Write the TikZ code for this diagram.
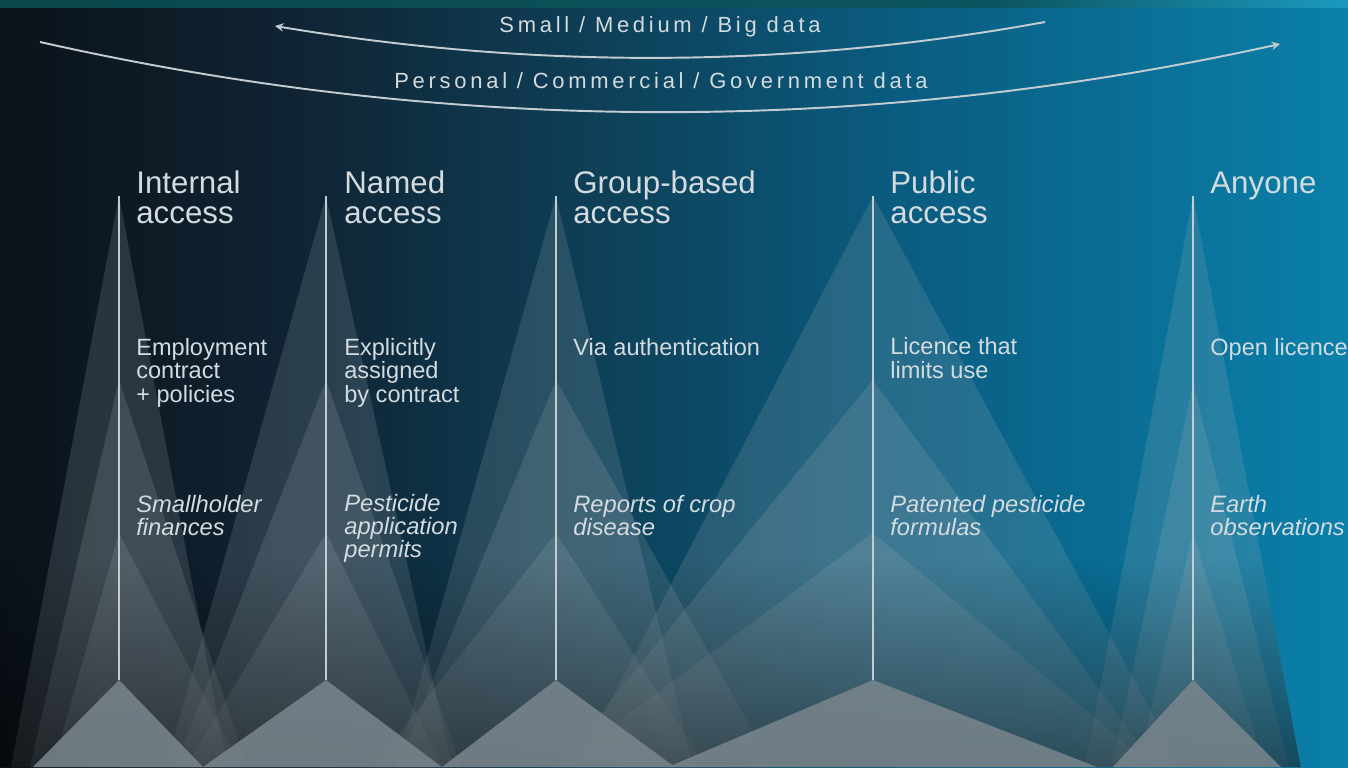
\documentclass[tikz,border=0pt]{standalone}
\usepackage{fontspec}
\setmainfont{Liberation Sans}
\usetikzlibrary{positioning,fadings}

\definecolor{testo}{HTML}{D3DBDF}
\definecolor{grigiofascio}{HTML}{A9B5BB}
\definecolor{grigiotetto}{HTML}{7A868D}
\definecolor{linea}{HTML}{C3CCD1}
\definecolor{bgA}{HTML}{0B1219}
\definecolor{bgB}{HTML}{102434}
\definecolor{bgC}{HTML}{0E4058}
\definecolor{bgD}{HTML}{0A5C80}
\definecolor{bgE}{HTML}{0A80AA}
\definecolor{stA}{HTML}{0A474C}
\definecolor{stB}{HTML}{0C5560}
\definecolor{stC}{HTML}{1B9AC0}

\pgfdeclarehorizontalshading{sfondo}{100bp}{color(0bp)=(bgA); color(25bp)=(bgA); color(36.13bp)=(bgB); color(47.26bp)=(bgC); color(58.38bp)=(bgD); color(75bp)=(bgE); color(100bp)=(bgE)}
\pgfdeclarehorizontalshading{striscia}{100bp}{color(0bp)=(stA); color(25bp)=(stA); color(62bp)=(stB); color(75bp)=(stC); color(100bp)=(stC)}

\begin{document}
\begin{tikzpicture}[x=0.02cm, y=-0.02cm, >=stealth,
    fascio/.style={fill=grigiofascio, fill opacity=0.18},
    tetto/.style={fill=grigiotetto, fill opacity=0.85},
    asse/.style={draw=linea, line width=1.4pt},
    titolo/.style={text=testo, anchor=base west, inner sep=0pt, align=left, font=\fontsize{17.8}{17}\selectfont},
    voce/.style={text=testo, anchor=base west, inner sep=0pt, align=left, font=\fontsize{13.4}{13.2}\selectfont},
    esempio/.style={voce, font=\fontsize{13.5}{13}\selectfont\itshape},
    arco/.style={->, draw=linea, line width=1.1pt},
    scala/.style={text=testo, anchor=base, inner sep=0pt, font=\fontsize{12.5}{12.5}\selectfont\addfontfeatures{LetterSpace=17}}]

    % Sfondo
    \useasboundingbox (0,0) rectangle (1348,767);
    \shade[shading=sfondo] (0,0) rectangle (1348,767);
    \shade[shading=striscia] (0,0) rectangle (1348,8);

    % Coordinate delle colonne
    \coordinate (int-top) at (119,196);
    \coordinate (int-bot) at (119,680);
    \coordinate (nom-top) at (326,196);
    \coordinate (nom-bot) at (326,680);
    \coordinate (grp-top) at (556,196);
    \coordinate (grp-bot) at (556,680);
    \coordinate (pub-top) at (873,196);
    \coordinate (pub-bot) at (873,680);
    \coordinate (tut-top) at (1193,196);
    \coordinate (tut-bot) at (1193,680);

    % Fasci di luce
    \fill[fascio] (119,196) -- (227,767) -- (11,767) -- cycle;
    \fill[fascio] (119,380) -- (247,767) -- (30,767) -- cycle;
    \fill[fascio] (119,533) -- (241,767) -- (53,767) -- cycle;

    \fill[fascio] (326,196) -- (452,767) -- (166,767) -- cycle;
    \fill[fascio] (326,380) -- (461,767) -- (175,767) -- cycle;
    \fill[fascio] (326,533) -- (443,767) -- (186,767) -- cycle;

    \fill[fascio] (556,196) -- (693,767) -- (396,767) -- cycle;
    \fill[fascio] (556,380) -- (773,767) -- (397,767) -- cycle;
    \fill[fascio] (556,533) -- (706,767) -- (373,767) -- cycle;

    \fill[fascio] (873,196) -- (1181,767) -- (576,767) -- cycle;
    \fill[fascio] (873,380) -- (1156,767) -- (556,767) -- cycle;
    \fill[fascio] (873,533) -- (1154,767) -- (557,767) -- cycle;

    \fill[fascio] (1193,196) -- (1301,767) -- (1085,767) -- cycle;
    \fill[fascio] (1193,383) -- (1289,767) -- (1112,767) -- cycle;
    \fill[fascio] (1193,533) -- (1265,767) -- (1137,767) -- cycle;

    % Ombra in basso
    \fill[black, fill opacity=0.45, path fading=north] (0,560) -- (1262,560) -- (1301,767) -- (0,767) -- cycle;

    % Tetti
    \fill[tetto] (119,680) -- (203,767) -- (33,767) -- cycle;
    \fill[tetto] (326,680) -- (442,767) -- (203,767) -- cycle;
    \fill[tetto] (556,680) -- (675,767) -- (442,767) -- cycle;
    \fill[tetto] (873,680) -- (1097,767) -- (668,767) -- cycle;
    \fill[tetto] (1193,680) -- (1281,767) -- (1113,767) -- cycle;

    % Assi verticali
    \draw[asse] (int-top) -- (int-bot);
    \draw[asse] (nom-top) -- (nom-bot);
    \draw[asse] (grp-top) -- (grp-bot);
    \draw[asse] (pub-top) -- (pub-bot);
    \draw[asse] (tut-top) -- (tut-bot);

    % Frecce in alto
    \coordinate (dim-a) at (1045,22);
    \coordinate (dim-b) at (275,26);
    \coordinate (tipo-a) at (40,42);
    \coordinate (tipo-b) at (1280,44);
    \draw[arco] (dim-a) .. controls (788,69) and (532,69) .. (dim-b);
    \draw[arco] (tipo-a) .. controls (453,135) and (867,135) .. (tipo-b);
    \node[scala] (dim) at (660,33) {Small / Medium / Big data};
    \node[scala] (tipo) at (661,89) {Personal / Commercial / Government data};

    % Titoli
    \node[titolo] (t-int) at (136,223) {Internal\\access};
    \node[titolo] (t-nom) at (344,223) {Named\\access};
    \node[titolo] (t-grp) at (573,223) {Group-based\\access};
    \node[titolo] (t-pub) at (890,223) {Public\\access};
    \node[titolo] (t-tut) at (1210,193) {Anyone};

    % Modalita
    \node[voce] (m-int) at (136,402) {Employment\\contract\\+ policies};
    \node[voce] (m-nom) at (344,402) {Explicitly\\assigned\\by contract};
    \node[voce] (m-grp) at (573,355) {Via authentication};
    \node[voce] (m-pub) at (890,378) {Licence that\\limits use};
    \node[voce] (m-tut) at (1210,355) {Open licence};

    % Esempi
    \node[esempio] (e-int) at (136,535) {Smallholder\\finances};
    \node[esempio] (e-nom) at (344,557) {Pesticide\\application\\permits};
    \node[esempio] (e-grp) at (573,535) {Reports of crop\\disease};
    \node[esempio] (e-pub) at (890,535) {Patented pesticide\\formulas};
    \node[esempio] (e-tut) at (1210,535) {Earth\\observations};
\end{tikzpicture}
\end{document}
